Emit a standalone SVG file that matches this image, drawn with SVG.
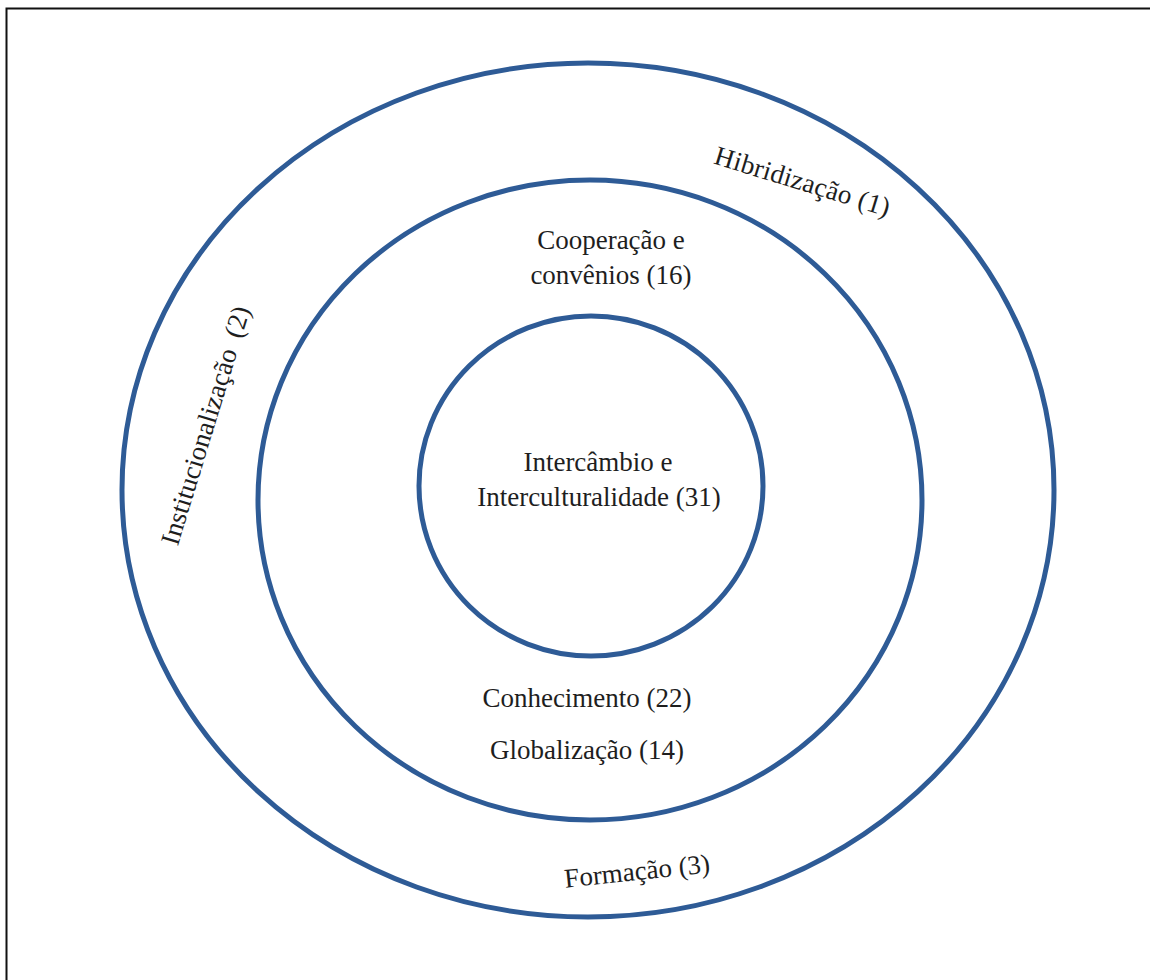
<svg xmlns="http://www.w3.org/2000/svg" width="1150" height="980" viewBox="0 0 1150 980">
<style>
.ring{fill:none;stroke:#2E5B96;stroke-width:5}
.lbl{font-family:"Liberation Serif","Times New Roman",serif;font-size:27px;fill:#1e1e1e;text-anchor:middle}
</style>
<rect x="0" y="0" width="1150" height="980" fill="#ffffff"/>
<rect x="6.5" y="8.5" width="1160" height="990" fill="none" stroke="#111" stroke-width="2"/>
<g id="outer">
<ellipse class="ring" cx="588" cy="490" rx="466" ry="427"/>
<text class="lbl" transform="translate(800,190) rotate(17)" letter-spacing="0.3">Hibridização (1)</text>
<text class="lbl" transform="translate(214,428) rotate(-73)" word-spacing="6">Institucionalização (2)</text>
<text class="lbl" transform="translate(638,880) rotate(-6)">Formação (3)</text>
</g>
<g id="middle">
<ellipse class="ring" cx="590" cy="500" rx="332" ry="320"/>
<text class="lbl" x="611" y="249">Cooperação e</text>
<text class="lbl" x="611" y="284">convênios (16)</text>
<text class="lbl" x="587" y="707">Conhecimento (22)</text>
<text class="lbl" x="587" y="759">Globalização (14)</text>
</g>
<g id="inner">
<ellipse class="ring" cx="591" cy="486" rx="172" ry="170"/>
<text class="lbl" x="598" y="471">Intercâmbio e</text>
<text class="lbl" x="599" y="506">Interculturalidade (31)</text>
</g>
<g id="connectors"></g>
</svg>
